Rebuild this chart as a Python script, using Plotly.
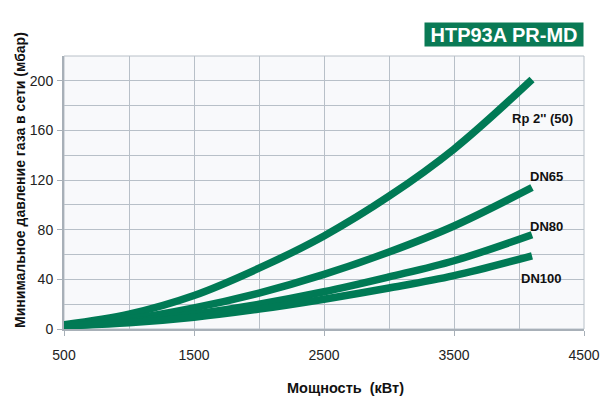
import plotly.graph_objects as go

power_kw = [500, 1000, 1500, 2000, 2500, 3000, 3500, 4100]
rp2 = [3.5, 12, 27, 49, 75, 107, 145, 201]
dn65 = [3, 8, 17, 29, 44, 62, 83, 114]
dn80 = [2.5, 6, 12, 20, 30, 42, 55, 76]
dn100 = [2.5, 5, 9.5, 16, 24, 33, 43, 59]
series_names = ["Rp 2'' (50)", "DN65", "DN80", "DN100"]
series = [rp2, dn65, dn80, dn100]
label_pos = [(4431, 170), (4354, 123), (4354, 83), (4339, 41)]

green = "#007a55"
fig = go.Figure()
for name, vals in zip(series_names, series):
    fig.add_trace(go.Scatter(x=power_kw, y=vals, mode="lines", name=name,
                             line=dict(color=green, width=7.5, shape="spline"),
                             showlegend=False))
for name, (lx, ly) in zip(series_names, label_pos):
    fig.add_annotation(x=lx, y=ly, text="<b>%s</b>" % name, showarrow=False,
                       xanchor="right", yanchor="middle",
                       font=dict(family="Liberation Sans, Arial", size=13, color="#111"))

fig.add_annotation(xref="paper", yref="paper", x=1.0, y=1.0, yshift=9, xanchor="right",
                   yanchor="bottom", text="<b>HTP93A PR-MD</b>", showarrow=False,
                   bgcolor="#0a7a55", width=158, height=23,
                   font=dict(family="Liberation Sans, Arial", size=20, color="white"),
                   borderpad=0)
fig.add_annotation(xref="paper", yref="paper", x=0.542, y=0, yshift=-59, yanchor="middle",
                   text="<b>Мощность  (кВт)</b>", showarrow=False,
                   font=dict(family="Liberation Sans, Arial", size=14.5, color="#111"))
fig.add_annotation(xref="paper", yref="paper", x=0, xshift=-44, xanchor="center",
                   y=0.546, yanchor="middle", textangle=-90,
                   text="<b>Минимальное давление газа в сети (мбар)</b>", showarrow=False,
                   font=dict(family="Liberation Sans, Arial", size=14, color="#111"))

# page body has an 8px margin, so the figure is offset by 8px
fig.update_layout(
    width=604, height=399,
    margin=dict(l=56, r=26, t=48, b=78),
    paper_bgcolor="white", plot_bgcolor="#f8f9fb",
    font=dict(family="Liberation Sans, Arial", size=14, color="#222"),
    xaxis=dict(range=[500, 4500], tick0=500, dtick=1000, showgrid=True, gridcolor="#b8c0c8",
               gridwidth=1, minor=dict(dtick=500, showgrid=True, gridcolor="#b8c0c8"),
               showline=True, linecolor="#a8b0b8", linewidth=2, mirror=False,
               ticks="outside", ticklen=5, tickcolor="#a8b0b8", zeroline=False,
               ticklabelstandoff=7),
    yaxis=dict(range=[0, 220], tick0=0, dtick=40, showgrid=True, gridcolor="#b8c0c8",
               gridwidth=1, minor=dict(dtick=20, showgrid=True, gridcolor="#b8c0c8"),
               showline=True, linecolor="#a8b0b8", linewidth=2,
               ticks="outside", ticklen=5, tickcolor="#a8b0b8", zeroline=False,
               ticklabelstandoff=1),
)
fig.add_shape(type="rect", xref="paper", yref="paper", x0=0, x1=1, y0=0, y1=1,
              line=dict(color="#b8c0c8", width=1), layer="below")
fig.write_html("out.html")
